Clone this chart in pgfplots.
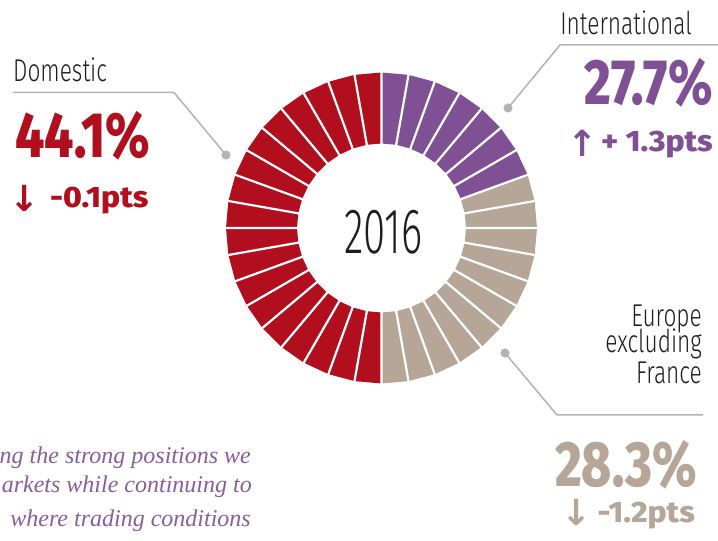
\documentclass[border=0pt]{standalone}
\usepackage{pgfplots}
\pgfplotsset{compat=1.18}
\usepackage{fontspec}
\setmainfont{Fira Sans}
\newfontfamily\lightf{Fira Sans Light}[FakeStretch=0.72]
\newfontfamily\thinf{Fira Sans Light}[FakeStretch=0.63]
\newfontfamily\boldf{Fira Sans ExtraBold}[FakeStretch=0.8]
\newfontfamily\ptsf{Fira Sans ExtraBold}[FakeStretch=1.08]
\newfontfamily\arrowf{DejaVu Sans Bold}
\newfontfamily\itf{Liberation Serif Italic}
\definecolor{dred}{HTML}{B20F1E}
\definecolor{dpur}{HTML}{7F5194}
\definecolor{dbei}{HTML}{B5A698}
\definecolor{lgray}{HTML}{B3B3B3}
\definecolor{tpur}{HTML}{8A5C9E}
\definecolor{tdark}{HTML}{1E1E1E}
\begin{document}
\begin{tikzpicture}
\begin{axis}[at={(0,0)}, anchor=south west, width=718bp, height=541bp,
  scale only axis, xmin=-381.5, xmax=336.5, ymin=-313, ymax=228,
  hide axis, clip=false]
% International (purple)
\addplot[fill=dpur, draw=none, data cs=polar] coordinates {
 (90,155.5)(80,155.5)(70,155.5)(60,155.5)(50,155.5)(40,155.5)(30,155.5)(20,155.5)
 (20,84.5)(30,84.5)(40,84.5)(50,84.5)(60,84.5)(70,84.5)(80,84.5)(90,84.5)} -- cycle;
% Europe excluding France (beige)
\addplot[fill=dbei, draw=none, data cs=polar] coordinates {
 (20,155.5)(10,155.5)(0,155.5)(-10,155.5)(-20,155.5)(-30,155.5)(-40,155.5)(-50,155.5)(-60,155.5)(-70,155.5)(-80,155.5)(-90,155.5)
 (-90,84.5)(-80,84.5)(-70,84.5)(-60,84.5)(-50,84.5)(-40,84.5)(-30,84.5)(-20,84.5)(-10,84.5)(0,84.5)(10,84.5)(20,84.5)} -- cycle;
% Domestic (red)
\addplot[fill=dred, draw=none, data cs=polar] coordinates {
 (90,155.5)(100,155.5)(110,155.5)(120,155.5)(130,155.5)(140,155.5)(150,155.5)(160,155.5)(170,155.5)(180,155.5)
 (190,155.5)(200,155.5)(210,155.5)(220,155.5)(230,155.5)(240,155.5)(250,155.5)(260,155.5)(270,155.5)
 (270,84.5)(260,84.5)(250,84.5)(240,84.5)(230,84.5)(220,84.5)(210,84.5)(200,84.5)(190,84.5)(180,84.5)
 (170,84.5)(160,84.5)(150,84.5)(140,84.5)(130,84.5)(120,84.5)(110,84.5)(100,84.5)(90,84.5)} -- cycle;
% white separators
\addplot[white, line width=2.2bp, data cs=polar] coordinates {
 (0,80)(0,160)(10,160)(10,80)(20,80)(20,160)(30,160)(30,80)(40,80)(40,160)(50,160)(50,80)
 (60,80)(60,160)(70,160)(70,80)(80,80)(80,160)(90,160)(90,80)(100,80)(100,160)(110,160)(110,80)
 (120,80)(120,160)(130,160)(130,80)(140,80)(140,160)(150,160)(150,80)(160,80)(160,160)(170,160)(170,80)
 (180,80)(180,160)(190,160)(190,80)(200,80)(200,160)(210,160)(210,80)(220,80)(220,160)(230,160)(230,80)
 (240,80)(240,160)(250,160)(250,80)(260,80)(260,160)(270,160)(270,80)(280,80)(280,160)(290,160)(290,80)
 (300,80)(300,160)(310,160)(310,80)(320,80)(320,160)(330,160)(330,80)(340,80)(340,160)(350,160)(350,80)};
% leader lines
\addplot[lgray, line width=1.5bp] coordinates {(-368.5,135.5)(-207.5,135.5)(-155.5,73)};
\addplot[lgray, line width=1.5bp] coordinates {(336.5,183)(178.5,183)(126.5,120)};
\addplot[lgray, line width=1.5bp] coordinates {(123.5,-125)(175.5,-187)(321.5,-187)};
\addplot[only marks, mark=*, mark size=4.3bp, lgray] coordinates {(-155.5,73)(126.5,120)(123.5,-125)};
% texts
\node[anchor=base, inner sep=0, text=tdark, font=\thinf\fontsize{64bp}{70bp}\selectfont] at (axis cs:2,-26) {2016};
\node[anchor=base west, inner sep=0, text=tdark, font=\lightf\fontsize{31.5bp}{36bp}\selectfont] at (axis cs:-368.5,146.3) {Domestic};
\node[anchor=base west, inner sep=0, text=dred, font=\boldf\fontsize{64bp}{70bp}\selectfont] at (axis cs:-366.5,70) {44.1\%};
\node[anchor=center, inner sep=0, text=dred, font=\arrowf\fontsize{36bp}{40bp}\selectfont] at (axis cs:-356.5,30) {↓};
\node[anchor=base west, inner sep=0, text=dred, font=\ptsf\fontsize{29.5bp}{34bp}\selectfont] at (axis cs:-331.5,20) {-0.1pts};
\node[anchor=base east, inner sep=0, text=tdark, font=\lightf\fontsize{31.5bp}{36bp}\selectfont] at (axis cs:310.5,193) {International};
\node[anchor=base east, inner sep=0, text=dpur, font=\boldf\fontsize{64bp}{70bp}\selectfont] at (axis cs:331.5,123) {27.7\%};
\node[anchor=center, inner sep=0, text=dpur, font=\arrowf\fontsize{36bp}{40bp}\selectfont] at (axis cs:201,84.5) {↑};
\node[anchor=base east, inner sep=0, text=dpur, font=\ptsf\fontsize{29.5bp}{34bp}\selectfont] at (axis cs:331.5,76) {+ 1.3pts};
\node[anchor=base east, inner sep=0, text=tdark, font=\lightf\fontsize{31.5bp}{34bp}\selectfont] at (axis cs:320.5,-99) {Europe};
\node[anchor=base east, inner sep=0, text=tdark, font=\lightf\fontsize{31.5bp}{34bp}\selectfont] at (axis cs:320.5,-125) {excluding};
\node[anchor=base east, inner sep=0, text=tdark, font=\lightf\fontsize{31.5bp}{34bp}\selectfont] at (axis cs:320.5,-156) {France};
\node[anchor=base east, inner sep=0, text=dbei, font=\boldf\fontsize{64bp}{70bp}\selectfont] at (axis cs:315.5,-259) {28.3\%};
\node[anchor=center, inner sep=0, text=dbei, font=\arrowf\fontsize{36bp}{40bp}\selectfont] at (axis cs:195,-284) {↓};
\node[anchor=base east, inner sep=0, text=dbei, font=\ptsf\fontsize{29.5bp}{34bp}\selectfont] at (axis cs:313.5,-294) {-1.2pts};
\node[anchor=base east, inner sep=0, text=tpur, font=\itf\fontsize{24bp}{28bp}\selectfont] at (axis cs:-130.5,-236) {ng the strong positions we};
\node[anchor=base east, inner sep=0, text=tpur, font=\itf\fontsize{24bp}{28bp}\selectfont] at (axis cs:-129.5,-265) {arkets while continuing to};
\node[anchor=base east, inner sep=0, text=tpur, font=\itf\fontsize{24bp}{28bp}\selectfont] at (axis cs:-130.5,-298) {where trading conditions};
\end{axis}
\pgfresetboundingbox
\path (0,0) rectangle (718bp,541bp);
\end{tikzpicture}
\end{document}
